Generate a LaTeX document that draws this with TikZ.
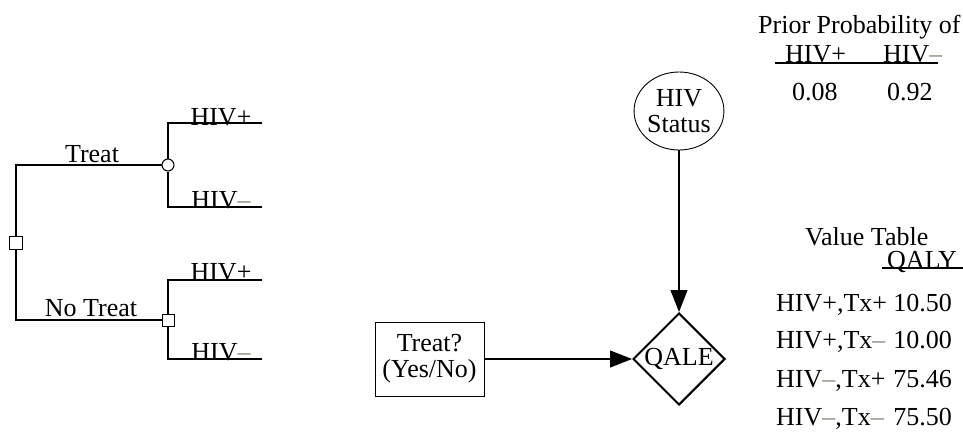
\documentclass[tikz,border=0pt]{standalone}
\usepackage{fontspec}
\setmainfont{Liberation Serif}
\usetikzlibrary{arrows.meta,shapes.geometric}
\definecolor{dashgray}{RGB}{130,130,115}
% grey dash used for the "negative" sign
\newcommand\dsh{\textcolor{dashgray}{–}}

\begin{document}
\begin{tikzpicture}[x=1pt,y=-1pt,
  every node/.style={font=\fontsize{26}{26}\selectfont, inner sep=0pt},
  branch/.style={line width=1.1pt},
  decision/.style={draw, rectangle, minimum size=13pt, line width=1pt},
  chance/.style={draw, circle, minimum size=12pt, line width=1pt},
  lbl/.style={anchor=base},
  lft/.style={anchor=base west},
  rgt/.style={anchor=base east},
  rule/.style={line width=1.1pt},
  link/.style={line width=1.1pt, -{Triangle[length=22pt,width=17pt]}},
]
\useasboundingbox (0,0) rectangle (963,432);

% ---- decision tree ----
\node[decision] (root) at (16,243) {};
\node[chance] (c1) at (168,165) {};
\node[decision, minimum size=12pt] (c2) at (168,320) {};
\coordinate (t1) at (262,123);
\coordinate (t2) at (262,207);
\coordinate (t3) at (262,280);
\coordinate (t4) at (262,359);
\draw[branch] (root) |- (c1);
\draw[branch] (root) |- (c2);
\draw[branch] (c1) |- (t1);
\draw[branch] (c1) |- (t2);
\draw[branch] (c2) |- (t3);
\draw[branch] (c2) |- (t4);

\node[lbl] (ltreat) at (92,162) {Treat};
\node[lbl] (lnotreat) at (91,316) {No Treat};
\node[lbl] (l1) at (221,125) {HIV+};
\node[lbl] (l2) at (221,208) {HIV\dsh};
\node[lbl] (l3) at (221,280) {HIV+};
\node[lbl] (l4) at (221,360) {HIV\dsh};

% ---- influence diagram ----
\node[draw, ellipse, minimum width=88pt, minimum height=78pt, align=center, line width=0.9pt] (hiv) at (679,111) {HIV\\Status};
\node[draw, diamond, minimum width=92pt, minimum height=92pt, line width=2pt] (qale) at (679,359) {QALE};
\node[draw, rectangle, minimum width=109pt, minimum height=74pt, align=center, line width=1pt] (tx) at (429.5,359) {Treat?\\(Yes/No)};
\draw[link] (hiv) -- (qale);
\draw[link] (tx) -- (qale);

% ---- prior probability table ----
\node[lft] (pp) at (758,33) {Prior Probability of};
\node[lft] (hp) at (785,62) {HIV+};
\node[lft] (hm) at (883,62) {HIV\dsh};
\coordinate (u1) at (775,63);
\coordinate (u2) at (938,63);
\draw[rule] (u1) -- (u2);
\node[lft] (p1) at (792,100) {0.08};
\node[lft] (p2) at (887,100) {0.92};

% ---- value table ----
\node[lft] (vt) at (805,245) {Value Table};
\node[lft] (qy) at (887,268) {QALY};
\coordinate (q1) at (882,268);
\coordinate (q2) at (963,268);
\draw[rule] (q1) -- (q2);

\node[lft] (r1) at (776,311) {HIV+,Tx+};
\node[rgt] (v1) at (952,311) {10.50};
\node[lft] (r2) at (776,348) {HIV+,Tx\dsh};
\node[rgt] (v2) at (952,348) {10.00};
\node[lft] (r3) at (776,387) {HIV\dsh,Tx+};
\node[rgt] (v3) at (952,387) {75.46};
\node[lft] (r4) at (776,425) {HIV\dsh,Tx\dsh};
\node[rgt] (v4) at (952,425) {75.50};
\end{tikzpicture}
\end{document}
